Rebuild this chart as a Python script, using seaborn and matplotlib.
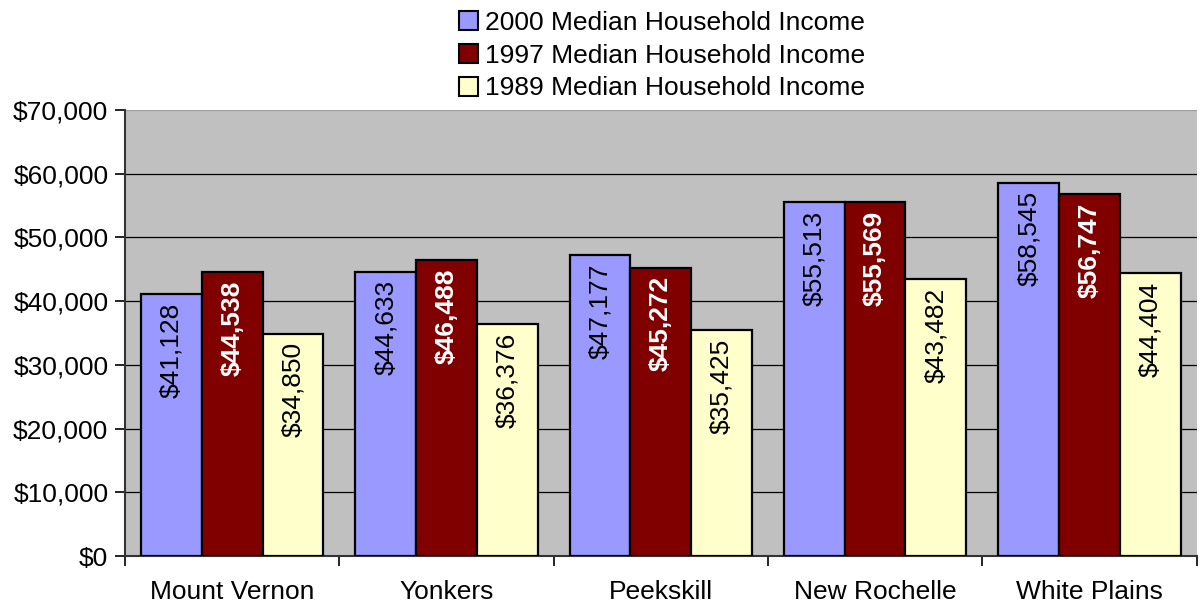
import matplotlib
matplotlib.use("Agg")
import matplotlib.pyplot as plt
import seaborn as sns
import pandas as pd
from matplotlib.ticker import FuncFormatter, FixedLocator
from matplotlib.patches import Patch

cities = ["Mount Vernon", "Yonkers", "Peekskill", "New Rochelle", "White Plains"]
inc_2000 = [41128, 44633, 47177, 55513, 58545]
inc_1997 = [44538, 46488, 45272, 55569, 56747]
inc_1989 = [34850, 36376, 35425, 43482, 44404]
series = ["2000 Median Household Income", "1997 Median Household Income", "1989 Median Household Income"]
colors = ["#9999FF", "#800000", "#FFFFCC"]

rows = []
for s, vals in zip(series, [inc_2000, inc_1997, inc_1989]):
    for c, v in zip(cities, vals):
        rows.append({"city": c, "series": s, "value": v})
df = pd.DataFrame(rows)

sns.set_theme(style="white")
plt.rcParams["font.family"] = ["Liberation Sans", "DejaVu Sans"]
plt.rcParams["text.color"] = "black"
FS = 19

fig = plt.figure(figsize=(11.99, 6.06), dpi=100)
ax = fig.add_axes([0.1043, 0.0825, 0.8937, 0.736])
ax.set_facecolor("#C0C0C0")

sns.barplot(data=df, x="city", y="value", hue="series", order=cities, hue_order=series,
            palette=colors, width=0.85, edgecolor="black", linewidth=1.6, saturation=1,
            ax=ax, legend=False, zorder=3)

ax.set_ylim(0, 70000)
ax.set_xlim(-0.5, len(cities) - 0.5)
ax.yaxis.set_major_locator(FixedLocator(range(0, 70001, 10000)))
ax.yaxis.set_major_formatter(FuncFormatter(lambda v, p: f"${int(v):,}"))
ax.grid(axis="y", color="black", linewidth=0.9, zorder=0)
ax.set_axisbelow(True)
ax.set_xlabel("")
ax.set_ylabel("")

ax.set_xticks(range(len(cities)))
ax.set_xticklabels(cities, fontsize=FS, color="black")
ax.xaxis.set_minor_locator(FixedLocator([i + 0.5 for i in range(-1, len(cities))]))
ax.tick_params(axis="x", which="major", length=0, pad=17)
ax.tick_params(axis="x", which="minor", length=7, width=1.2, color="black", direction="out", bottom=True)
ax.tick_params(axis="y", which="major", length=7, width=1.2, color="black", direction="out", left=True,
               labelsize=FS, labelcolor="black", pad=5)

for gl, v in zip(ax.yaxis.get_gridlines(), range(0, 70001, 10000)):
    if v == 70000:
        gl.set_color("#A0A0A0")

for side in ["top", "right"]:
    ax.spines[side].set_visible(False)
for side in ["left", "bottom"]:
    ax.spines[side].set_color("#333333")
    ax.spines[side].set_linewidth(1.5)

for i, cont in enumerate(ax.containers):
    for patch in cont.patches:
        h = patch.get_height()
        x = patch.get_x() + patch.get_width() / 2
        if i == 1:
            kw = dict(color="white", fontweight="bold")
        else:
            kw = dict(color="black")
        ax.annotate(f"${int(round(h)):,}", xy=(x, h), xytext=(0, -6), textcoords="offset points",
                    rotation=90, ha="center", va="top", fontsize=FS, zorder=5, **kw)

handles = [Patch(facecolor=c, edgecolor="black", linewidth=1.5) for c in colors]
leg = fig.legend(handles, series, loc="upper center", bbox_to_anchor=(0.552, 1.008), frameon=False,
                 fontsize=FS, handlelength=0.75, handleheight=0.75, handletextpad=0.25, labelspacing=0.33,
                 borderaxespad=0.2)
for t in leg.get_texts():
    t.set_color("black")

fig.savefig("out.png", dpi=100, facecolor="white")
